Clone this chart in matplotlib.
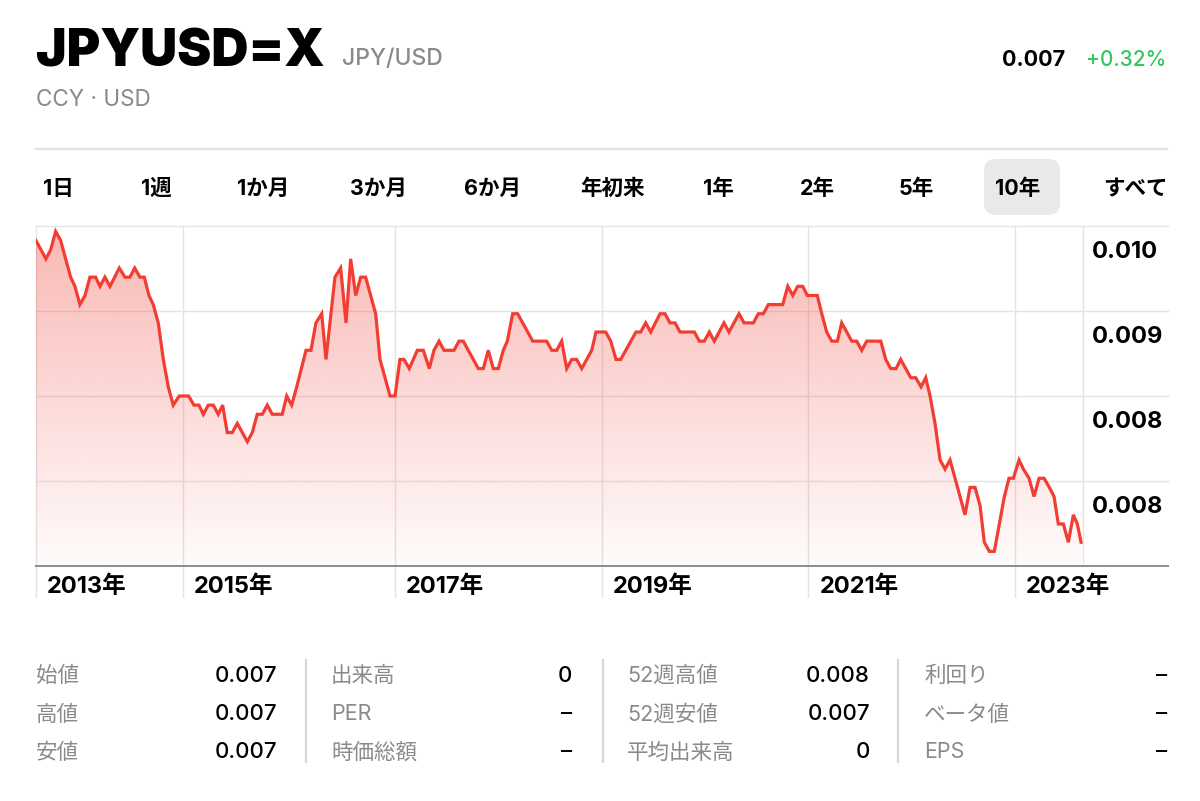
import matplotlib
matplotlib.use("Agg")
import matplotlib.pyplot as plt
import numpy as np
from matplotlib.lines import Line2D
from matplotlib.patches import FancyBboxPatch, Polygon
from matplotlib.transforms import IdentityTransform, blended_transform_factory, offset_copy

# ---- data (decimal year, JPY/USD) -------------------------------------------
dates = [
    2013.526, 2013.622, 2013.668, 2013.716, 2013.765, 2013.861, 2013.903, 2013.951,
    2014.000, 2014.048, 2014.103, 2014.145, 2014.193, 2014.242, 2014.332, 2014.387,
    2014.435, 2014.481, 2014.532, 2014.574, 2014.619, 2014.661, 2014.709, 2014.758,
    2014.806, 2014.854, 2014.912, 2015.003, 2015.055, 2015.103, 2015.145, 2015.193,
    2015.242, 2015.290, 2015.332, 2015.377, 2015.425, 2015.474, 2015.571, 2015.619,
    2015.667, 2015.716, 2015.764, 2015.813, 2015.909, 2015.952, 2016.000, 2016.049,
    2016.139, 2016.187, 2016.235, 2016.291, 2016.332, 2016.419, 2016.474, 2016.526,
    2016.571, 2016.620, 2016.668, 2016.716, 2016.765, 2016.813, 2016.855, 2016.952,
    2017.000, 2017.048, 2017.087, 2017.138, 2017.216, 2017.274, 2017.332, 2017.377,
    2017.426, 2017.474, 2017.571, 2017.619, 2017.661, 2017.806, 2017.855, 2017.903,
    2017.951, 2018.000, 2018.048, 2018.087, 2018.139, 2018.187, 2018.333, 2018.468,
    2018.517, 2018.565, 2018.613, 2018.662, 2018.710, 2018.758, 2018.807, 2018.904,
    2018.945, 2019.039, 2019.088, 2019.139, 2019.184, 2019.332, 2019.378, 2019.426,
    2019.475, 2019.565, 2019.613, 2019.661, 2019.710, 2019.758, 2019.897, 2019.945,
    2019.993, 2020.042, 2020.090, 2020.184, 2020.232, 2020.329, 2020.378, 2020.468,
    2020.516, 2020.564, 2020.613, 2020.752, 2020.801, 2020.849, 2020.897, 2020.946,
    2020.990, 2021.087, 2021.130, 2021.178, 2021.226, 2021.281, 2021.323, 2021.372,
    2021.420, 2021.468, 2021.517, 2021.565, 2021.701, 2021.749, 2021.797, 2021.849,
    2021.894, 2021.943, 2021.991, 2022.039, 2022.091, 2022.136, 2022.178, 2022.226,
    2022.275, 2022.323, 2022.371, 2022.420, 2022.516, 2022.565, 2022.613, 2022.662,
    2022.703, 2022.752, 2022.800, 2022.848, 2022.897, 2022.942, 2022.984, 2023.039,
    2023.081, 2023.136, 2023.184, 2023.233, 2023.281, 2023.332, 2023.378, 2023.419,
    2023.468, 2023.516, 2023.565, 2023.603, 2023.639,
]
rates = [
    0.0102, 0.0100, 0.0101, 0.0103, 0.0102, 0.0098, 0.0097, 0.0095,
    0.0096, 0.0098, 0.0098, 0.0097, 0.0098, 0.0097, 0.0099, 0.0098,
    0.0098, 0.0099, 0.0098, 0.0098, 0.0096, 0.0095, 0.0093, 0.0089,
    0.0086, 0.0084, 0.0085, 0.0085, 0.0084, 0.0084, 0.0083, 0.0084,
    0.0084, 0.0083, 0.0084, 0.0081, 0.0081, 0.0082, 0.0080, 0.0081,
    0.0083, 0.0083, 0.0084, 0.0083, 0.0083, 0.0085, 0.0084, 0.0086,
    0.0090, 0.0090, 0.0093, 0.0094, 0.0089, 0.0098, 0.0099, 0.0093,
    0.0100, 0.0096, 0.0098, 0.0098, 0.0096, 0.0094, 0.0089, 0.0085,
    0.0085, 0.0089, 0.0089, 0.0088, 0.0090, 0.0090, 0.0088, 0.0090,
    0.0091, 0.0090, 0.0090, 0.0091, 0.0091, 0.0088, 0.0088, 0.0090,
    0.0088, 0.0088, 0.0090, 0.0091, 0.0094, 0.0094, 0.0091, 0.0091,
    0.0090, 0.0090, 0.0091, 0.0088, 0.0089, 0.0089, 0.0088, 0.0090,
    0.0092, 0.0092, 0.0091, 0.0089, 0.0089, 0.0092, 0.0092, 0.0093,
    0.0092, 0.0094, 0.0094, 0.0093, 0.0093, 0.0092, 0.0092, 0.0091,
    0.0091, 0.0092, 0.0091, 0.0093, 0.0092, 0.0094, 0.0093, 0.0093,
    0.0094, 0.0094, 0.0095, 0.0095, 0.0097, 0.0096, 0.0097, 0.0097,
    0.0096, 0.0096, 0.0094, 0.0092, 0.0091, 0.0091, 0.0093, 0.0092,
    0.0091, 0.0091, 0.0090, 0.0091, 0.0091, 0.0089, 0.0088, 0.0088,
    0.0089, 0.0088, 0.0087, 0.0087, 0.0086, 0.0087, 0.0085, 0.0082,
    0.0078, 0.0077, 0.0078, 0.0076, 0.0072, 0.0075, 0.0075, 0.0073,
    0.0069, 0.0068, 0.0068, 0.0071, 0.0074, 0.0076, 0.0076, 0.0078,
    0.0077, 0.0076, 0.0074, 0.0076, 0.0076, 0.0075, 0.0074, 0.0071,
    0.0071, 0.0069, 0.0072, 0.0071, 0.0069,
]

range_start, range_end = 2013.526, 2023.658
year_ticks = [2013.526, 2014.95, 2017, 2019, 2021, 2023]
year_labels = ["2013年", "2015年", "2017年", "2019年", "2021年", "2023年"]
y_grid = [0.01036, 0.00943, 0.00850, 0.00757]
y_labels = ["0.010", "0.009", "0.008", "0.008"]
y_min, y_max = 0.00664, 0.01036

tabs = ["1日", "1週", "1か月", "3か月", "6か月", "年初来", "1年", "2年", "5年", "10年", "すべて"]
active_tab = "10年"

stat_labels = [
    ["始値", "高値", "安値"],
    ["出来高", "PER", "時価総額"],
    ["52週高値", "52週安値", "平均出来高"],
    ["利回り", "ベータ値", "EPS"],
]
stat_values = [
    ["0.007", "0.007", "0.007"],
    ["0", "–", "–"],
    ["0.008", "0.007", "0"],
    ["–", "–", "–"],
]

# ---- style ----------------------------------------------------------------
W, H = 1200, 801
LATIN = "Inter"
CJK = "Noto Sans CJK JP"
MIX = [LATIN, CJK, "DejaVu Sans"]
plt.rcParams["font.family"] = [CJK, "DejaVu Sans"]
RED = "#f23d33"
GRAY = "#8a8a8e"
GRID = "#e4e4e4"
PIX = IdentityTransform()

fig = plt.figure(figsize=(W / 100, H / 100), dpi=100)


def ftext(x, y, s, **kw):
    """Text placed in pixel coordinates measured from the top-left corner."""
    fig.text(x, H - y, s, transform=PIX, **kw)


def hline(x0, x1, y, **kw):
    fig.add_artist(Line2D([x0, x1], [H - y, H - y], transform=PIX, **kw))


# header
ftext(36, 66.5, "JPYUSD=X", fontsize=37, weight="black", family=LATIN, va="baseline")
ftext(342, 65.5, "JPY/USD", fontsize=16.5, weight="medium", family=LATIN, color=GRAY, va="baseline")
ftext(36, 106.5, "CCY · USD", fontsize=16.2, family=LATIN, color=GRAY, va="baseline")
ftext(1065, 66, "0.007", fontsize=15.5, weight="bold", family=LATIN, ha="right", va="baseline")
ftext(1166, 66, "+0.32%", fontsize=15, weight="medium", family=LATIN, color="#34c759",
      ha="right", va="baseline")
hline(36, 1167, 148.5, color="#e2e2e2", lw=1.6)

# range tabs
tab_x = [43, 140.7, 236.7, 350, 464, 580, 703, 800, 899, 995, 1103]
fig.add_artist(FancyBboxPatch((984, H - 215), 76, 56, boxstyle="round,pad=0,rounding_size=12",
                              transform=PIX, facecolor="#e9e9eb", edgecolor="none"))
for x, t in zip(tab_x, tabs):
    ftext(x, 189, t, fontsize=15.5, weight="bold", family=MIX, va="center", ha="left")

# ---- chart ------------------------------------------------------------------
ax = fig.add_axes([36 / W, (H - 566) / H, (1168 - 36) / W, 340 / H])
x_right = range_start + (range_end - range_start) * (1168 - 36) / (1083 - 36)
ax.set_axis_off()

grad = np.linspace(1, 0, 256)
rgba = np.zeros((256, 1, 4))
rgba[..., 0], rgba[..., 1], rgba[..., 2] = 240 / 255, 62 / 255, 52 / 255
rgba[:, 0, 3] = 0.02 + 0.35 * grad
im = ax.imshow(rgba, extent=(range_start, dates[-1], y_min, y_max), aspect="auto",
               origin="upper", interpolation="bilinear", zorder=1)
verts = [(dates[0], y_min)] + list(zip(dates, rates)) + [(dates[-1], y_min)]
clip = Polygon(verts, closed=True, facecolor="none", edgecolor="none", transform=ax.transData)
ax.add_patch(clip)
im.set_clip_path(clip)
ax.set_xlim(range_start, x_right)
ax.set_ylim(y_min, y_max)

for v in y_grid:
    ax.axhline(v, color=GRID, lw=1.0, zorder=0, clip_on=False)
ax.axhline(y_min, color="#8c8c8c", lw=1.4, zorder=4, clip_on=False)
for xv in year_ticks:
    ax.axvline(xv, ymin=-31 / 340, ymax=1, color=GRID, lw=1.0, zorder=0, clip_on=False)
ax.axvline(range_end, ymin=0.01, ymax=1, color=GRID, lw=1.0, zorder=0)

ax.plot(dates, rates, color=RED, lw=2.3, zorder=3, solid_joinstyle="miter")

xtrans = offset_copy(blended_transform_factory(ax.transData, ax.transAxes), fig=fig, x=11, units="dots")
for xv, lab in zip(year_ticks, year_labels):
    ax.text(xv, -20.5 / 340, lab, transform=xtrans, ha="left", va="center",
            fontsize=17, weight="bold", family=MIX)

ytrans = offset_copy(blended_transform_factory(ax.transAxes, ax.transData), fig=fig, y=-26, units="dots")
for v, lab in zip(y_grid, y_labels):
    ax.text((1092 - 36) / 1132, v, lab, transform=ytrans, ha="left", va="center",
            fontsize=17, weight="bold", family=LATIN)

# ---- stats table ------------------------------------------------------------
label_x = [36, 331, 627, 924]
value_x = [277, 572, 870, 1167]
row_y = [676, 714.5, 752.5]
for c in range(4):
    for r in range(3):
        ftext(label_x[c], row_y[r], stat_labels[c][r], fontsize=15.5, color=GRAY,
              family=MIX, va="center", ha="left")
        ftext(value_x[c], row_y[r], stat_values[c][r], fontsize=16, family=MIX,
              weight="medium", va="center", ha="right")
for x in [306, 603, 898]:
    fig.add_artist(Line2D([x, x], [H - 660, H - 762], transform=PIX, color="#d6d6d6", lw=1.6))

fig.savefig("out.png", dpi=100, facecolor="white")
